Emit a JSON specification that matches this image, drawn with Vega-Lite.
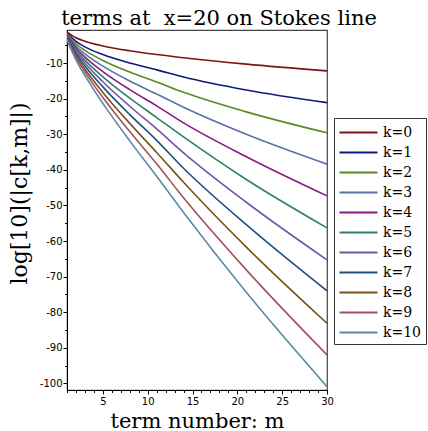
{
  "$schema": "https://vega.github.io/schema/vega-lite/v6.json",
  "width": 260,
  "height": 360,
  "autosize": "none",
  "padding": {"left": 67, "top": 30, "right": 101, "bottom": 41},
  "background": "white",
  "title": {"text": "terms at\u00a0 x=20 on Stokes line", "font": "DejaVu Serif", "fontSize": 21, "fontWeight": "normal", "color": "black", "anchor": "middle", "baseline": "alphabetic", "offset": 5, "dx": 22, "dy": 21},
  "config": {
    "view": {"stroke": "#444", "strokeWidth": 1.2},
    "axis": {"grid": false, "domainColor": "black", "tickColor": "black", "labelFont": "DejaVu Sans", "labelFontSize": 10, "labelColor": "black", "titleFont": "DejaVu Serif", "titleFontSize": 21, "titleFontWeight": "normal", "titleColor": "black", "labelOverlap": false, "labelFlush": false}
  },
  "data": {"values": [
    {"k": "k=0", "m": 1, "v": -1.3}, {"k": "k=0", "m": 2, "v": -2.87}, {"k": "k=0", "m": 3, "v": -3.84}, {"k": "k=0", "m": 5, "v": -5.17}, {"k": "k=0", "m": 8, "v": -6.54}, {"k": "k=0", "m": 11, "v": -7.6}, {"k": "k=0", "m": 14, "v": -8.5}, {"k": "k=0", "m": 21, "v": -10.3}, {"k": "k=0", "m": 30, "v": -12.2},
    {"k": "k=1", "m": 1, "v": -1.52}, {"k": "k=1", "m": 2, "v": -3.9}, {"k": "k=1", "m": 3, "v": -5.43}, {"k": "k=1", "m": 5, "v": -7.6}, {"k": "k=1", "m": 8, "v": -9.97}, {"k": "k=1", "m": 11, "v": -11.9}, {"k": "k=1", "m": 14, "v": -13.9}, {"k": "k=1", "m": 21, "v": -17.55}, {"k": "k=1", "m": 30, "v": -21.1},
    {"k": "k=2", "m": 1, "v": -1.74}, {"k": "k=2", "m": 2, "v": -4.56}, {"k": "k=2", "m": 3, "v": -6.45}, {"k": "k=2", "m": 5, "v": -9.26}, {"k": "k=2", "m": 8, "v": -12.53}, {"k": "k=2", "m": 11, "v": -15.3}, {"k": "k=2", "m": 14, "v": -18.2}, {"k": "k=2", "m": 21, "v": -23.7}, {"k": "k=2", "m": 30, "v": -29.6},
    {"k": "k=3", "m": 1, "v": -1.96}, {"k": "k=3", "m": 2, "v": -5.18}, {"k": "k=3", "m": 3, "v": -7.42}, {"k": "k=3", "m": 5, "v": -10.87}, {"k": "k=3", "m": 8, "v": -15.04}, {"k": "k=3", "m": 11, "v": -18.7}, {"k": "k=3", "m": 14, "v": -22.4}, {"k": "k=3", "m": 21, "v": -30.0}, {"k": "k=3", "m": 30, "v": -38.4},
    {"k": "k=4", "m": 1, "v": -2.18}, {"k": "k=4", "m": 2, "v": -5.74}, {"k": "k=4", "m": 3, "v": -8.3}, {"k": "k=4", "m": 5, "v": -12.37}, {"k": "k=4", "m": 8, "v": -17.45}, {"k": "k=4", "m": 11, "v": -22.0}, {"k": "k=4", "m": 14, "v": -26.8}, {"k": "k=4", "m": 21, "v": -36.3}, {"k": "k=4", "m": 30, "v": -47.3},
    {"k": "k=5", "m": 1, "v": -2.4}, {"k": "k=5", "m": 2, "v": -6.29}, {"k": "k=5", "m": 3, "v": -9.16}, {"k": "k=5", "m": 5, "v": -13.85}, {"k": "k=5", "m": 8, "v": -19.84}, {"k": "k=5", "m": 11, "v": -25.3}, {"k": "k=5", "m": 14, "v": -30.75}, {"k": "k=5", "m": 21, "v": -42.7}, {"k": "k=5", "m": 30, "v": -56.3},
    {"k": "k=6", "m": 1, "v": -2.62}, {"k": "k=6", "m": 2, "v": -6.79}, {"k": "k=6", "m": 3, "v": -9.95}, {"k": "k=6", "m": 5, "v": -15.24}, {"k": "k=6", "m": 8, "v": -22.13}, {"k": "k=6", "m": 11, "v": -28.5}, {"k": "k=6", "m": 14, "v": -35.2}, {"k": "k=6", "m": 21, "v": -49.1}, {"k": "k=6", "m": 30, "v": -65.3},
    {"k": "k=7", "m": 1, "v": -2.84}, {"k": "k=7", "m": 2, "v": -7.33}, {"k": "k=7", "m": 3, "v": -10.8}, {"k": "k=7", "m": 5, "v": -16.68}, {"k": "k=7", "m": 8, "v": -24.46}, {"k": "k=7", "m": 11, "v": -31.7}, {"k": "k=7", "m": 14, "v": -39.55}, {"k": "k=7", "m": 21, "v": -55.4}, {"k": "k=7", "m": 30, "v": -74.0},
    {"k": "k=8", "m": 1, "v": -3.06}, {"k": "k=8", "m": 2, "v": -7.91}, {"k": "k=8", "m": 3, "v": -11.71}, {"k": "k=8", "m": 5, "v": -18.23}, {"k": "k=8", "m": 8, "v": -26.94}, {"k": "k=8", "m": 11, "v": -35.1}, {"k": "k=8", "m": 14, "v": -43.5}, {"k": "k=8", "m": 21, "v": -61.7}, {"k": "k=8", "m": 30, "v": -83.1},
    {"k": "k=9", "m": 1, "v": -3.28}, {"k": "k=9", "m": 2, "v": -8.42}, {"k": "k=9", "m": 3, "v": -12.52}, {"k": "k=9", "m": 5, "v": -19.64}, {"k": "k=9", "m": 8, "v": -29.24}, {"k": "k=9", "m": 11, "v": -38.3}, {"k": "k=9", "m": 14, "v": -47.85}, {"k": "k=9", "m": 21, "v": -68.1}, {"k": "k=9", "m": 30, "v": -92.0},
    {"k": "k=10", "m": 1, "v": -3.5}, {"k": "k=10", "m": 2, "v": -9.08}, {"k": "k=10", "m": 3, "v": -13.54}, {"k": "k=10", "m": 5, "v": -21.32}, {"k": "k=10", "m": 8, "v": -31.85}, {"k": "k=10", "m": 11, "v": -41.8}, {"k": "k=10", "m": 14, "v": -51.95}, {"k": "k=10", "m": 21, "v": -74.4}, {"k": "k=10", "m": 30, "v": -100.9}
  ]},
  "mark": {"type": "line", "strokeWidth": 1.6, "interpolate": "monotone", "clip": true},
  "encoding": {
    "x": {"field": "m", "type": "quantitative", "scale": {"domain": [1, 30], "nice": false, "zero": false},
      "axis": {"values": [1,2,3,4,5,6,7,8,9,10,11,12,13,14,15,16,17,18,19,20,21,22,23,24,25,26,27,28,29,30],
        "labelExpr": "datum.value % 5 === 0 ? toString(datum.value) : ''",
        "tickSize": {"expr": "datum.value % 5 === 0 ? 4 : 2.5"},
        "labelPadding": 2, "title": "term number: m", "titleBaseline": "alphabetic", "titleY": 37}},
    "y": {"field": "v", "type": "quantitative", "scale": {"domain": [-101.85, -0.7], "nice": false, "zero": false},
      "axis": {"values": [-100,-95,-90,-85,-80,-75,-70,-65,-60,-55,-50,-45,-40,-35,-30,-25,-20,-15,-10,-5],
        "labelExpr": "datum.value % 10 === 0 ? toString(datum.value) : ''",
        "tickSize": {"expr": "datum.value % 10 === 0 ? 4 : 2.5"},
        "labelPadding": 1, "title": "log[10](|c[k,m]|)", "titleFontSize": 22, "titleAngle": -90, "titleAlign": "center", "titleBaseline": "alphabetic", "titleX": -41, "titleY": 163}},
    "color": {"field": "k", "type": "nominal",
      "scale": {"domain": ["k=0","k=1","k=2","k=3","k=4","k=5","k=6","k=7","k=8","k=9","k=10"],
        "range": ["#7C1416","#0E1A80","#5B8A24","#5A72A8","#8A1A82","#2E8068","#7355A8","#1E5080","#7A5218","#A2505A","#5A8AA6"]},
      "legend": {"orient": "none", "legendX": 267, "legendY": 88, "title": null, "strokeColor": "#333", "padding": 4,
        "symbolType": "M-2,0H2", "symbolSize": 361, "symbolStrokeWidth": 2, "symbolOffset": 10, "labelFont": "DejaVu Serif", "labelFontSize": 14, "labelColor": "black", "labelOffset": 14, "rowPadding": 2, "symbolLimit": 0}}
  }
}
